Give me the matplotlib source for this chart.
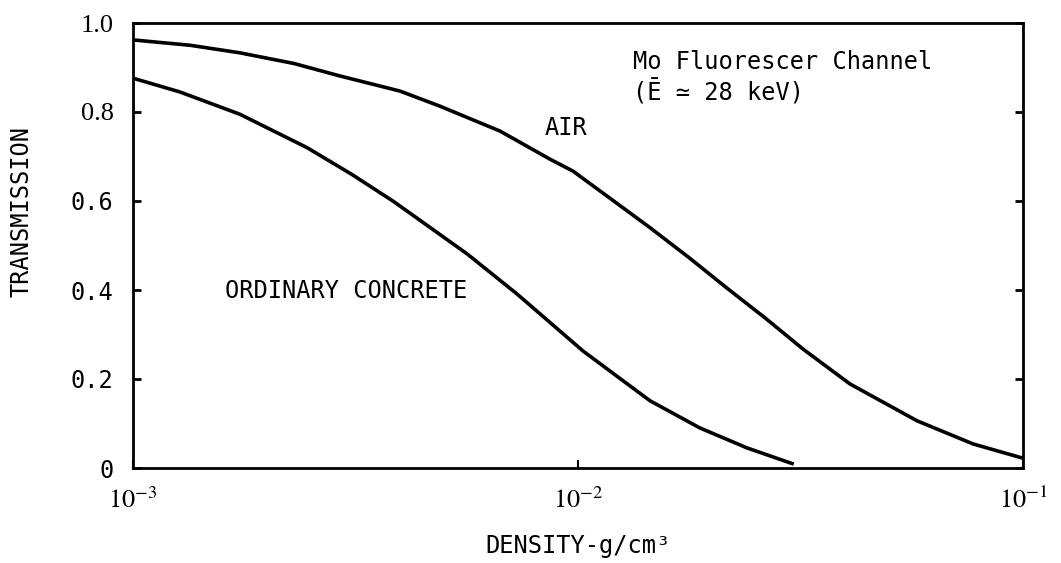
import matplotlib
matplotlib.use('Agg')
import matplotlib.pyplot as plt

# values
air_density = [0.001, 0.001343, 0.001738, 0.002300, 0.002917, 0.003981, 0.004898,
               0.006683, 0.008650, 0.009750, 0.01330, 0.01452, 0.01780, 0.02163,
               0.02650, 0.03206, 0.04083, 0.05781, 0.07727, 0.1]
air_trans = [0.962, 0.950, 0.933, 0.909, 0.881, 0.847, 0.813,
             0.757, 0.694, 0.667, 0.568, 0.540, 0.472, 0.404,
             0.335, 0.267, 0.189, 0.106, 0.054, 0.022]

concrete_density = [0.001, 0.001275, 0.001738, 0.002460, 0.003100, 0.003837,
                    0.004188, 0.005636, 0.007295, 0.01026, 0.01452, 0.01879,
                    0.02400, 0.03027]
concrete_trans = [0.876, 0.845, 0.795, 0.720, 0.660, 0.600,
                  0.573, 0.481, 0.391, 0.263, 0.151, 0.090,
                  0.045, 0.010]

yticks = [0, 0.2, 0.4, 0.6, 0.8, 1.0]
ytick_labels = ['0', '0.2', '0.4', '0.6', '0.8', '1.0']
xticks = [1e-3, 1e-2, 1e-1]
xtick_labels = [r'$10^{-3}$', r'$10^{-2}$', r'$10^{-1}$']

mono = ['DejaVu Sans Mono', 'DejaVu Sans']
plt.rcParams['font.family'] = mono
plt.rcParams['mathtext.fontset'] = 'stix'

fig = plt.figure(figsize=(10.61, 5.63), dpi=100)
ax = fig.add_axes([133 / 1061, 1 - 468 / 563, 890 / 1061, 445 / 563])

ax.plot(air_density, air_trans, color='black', lw=2.6, solid_joinstyle='round')
ax.plot(concrete_density, concrete_trans, color='black', lw=2.6, solid_joinstyle='round')

ax.set_xscale('log')
ax.set_xlim(1e-3, 1e-1)
ax.set_ylim(0, 1.0)
ax.set_xticks(xticks)
ax.set_xticklabels(xtick_labels, fontsize=19)
ax.xaxis.set_minor_locator(plt.NullLocator())
ax.set_yticks(yticks)
ax.set_yticklabels(ytick_labels, fontsize=17)
for lab in ax.get_yticklabels()[-2:]:
    lab.set_family('Liberation Serif')
    lab.set_fontsize(19)

ax.tick_params(axis='y', direction='in', length=6, width=2, pad=14, right=True)
ax.tick_params(axis='x', direction='in', length=6, width=1.5, pad=14)
for s in ax.spines.values():
    s.set_linewidth(2)

ax.text(0.0133, 0.912, 'Mo Fluorescer Channel', fontsize=17, va='center', ha='left')
ax.text(0.0133, 0.845, '(Ē ≃ 28 keV)', fontsize=17, va='center', ha='left')
ax.text(0.00843, 0.764, 'AIR', fontsize=17, va='center', ha='left')
ax.text(0.00564, 0.398, 'ORDINARY CONCRETE', fontsize=17, va='center', ha='right')

fig.text(22 / 1061, 1 - 211 / 563, 'TRANSMISSION', rotation=90, fontsize=17,
         va='center', ha='center')
fig.text(578 / 1061, 1 - 546 / 563, 'DENSITY-g/cm³', fontsize=17,
         va='center', ha='center')

fig.savefig('out.png', dpi=100)
